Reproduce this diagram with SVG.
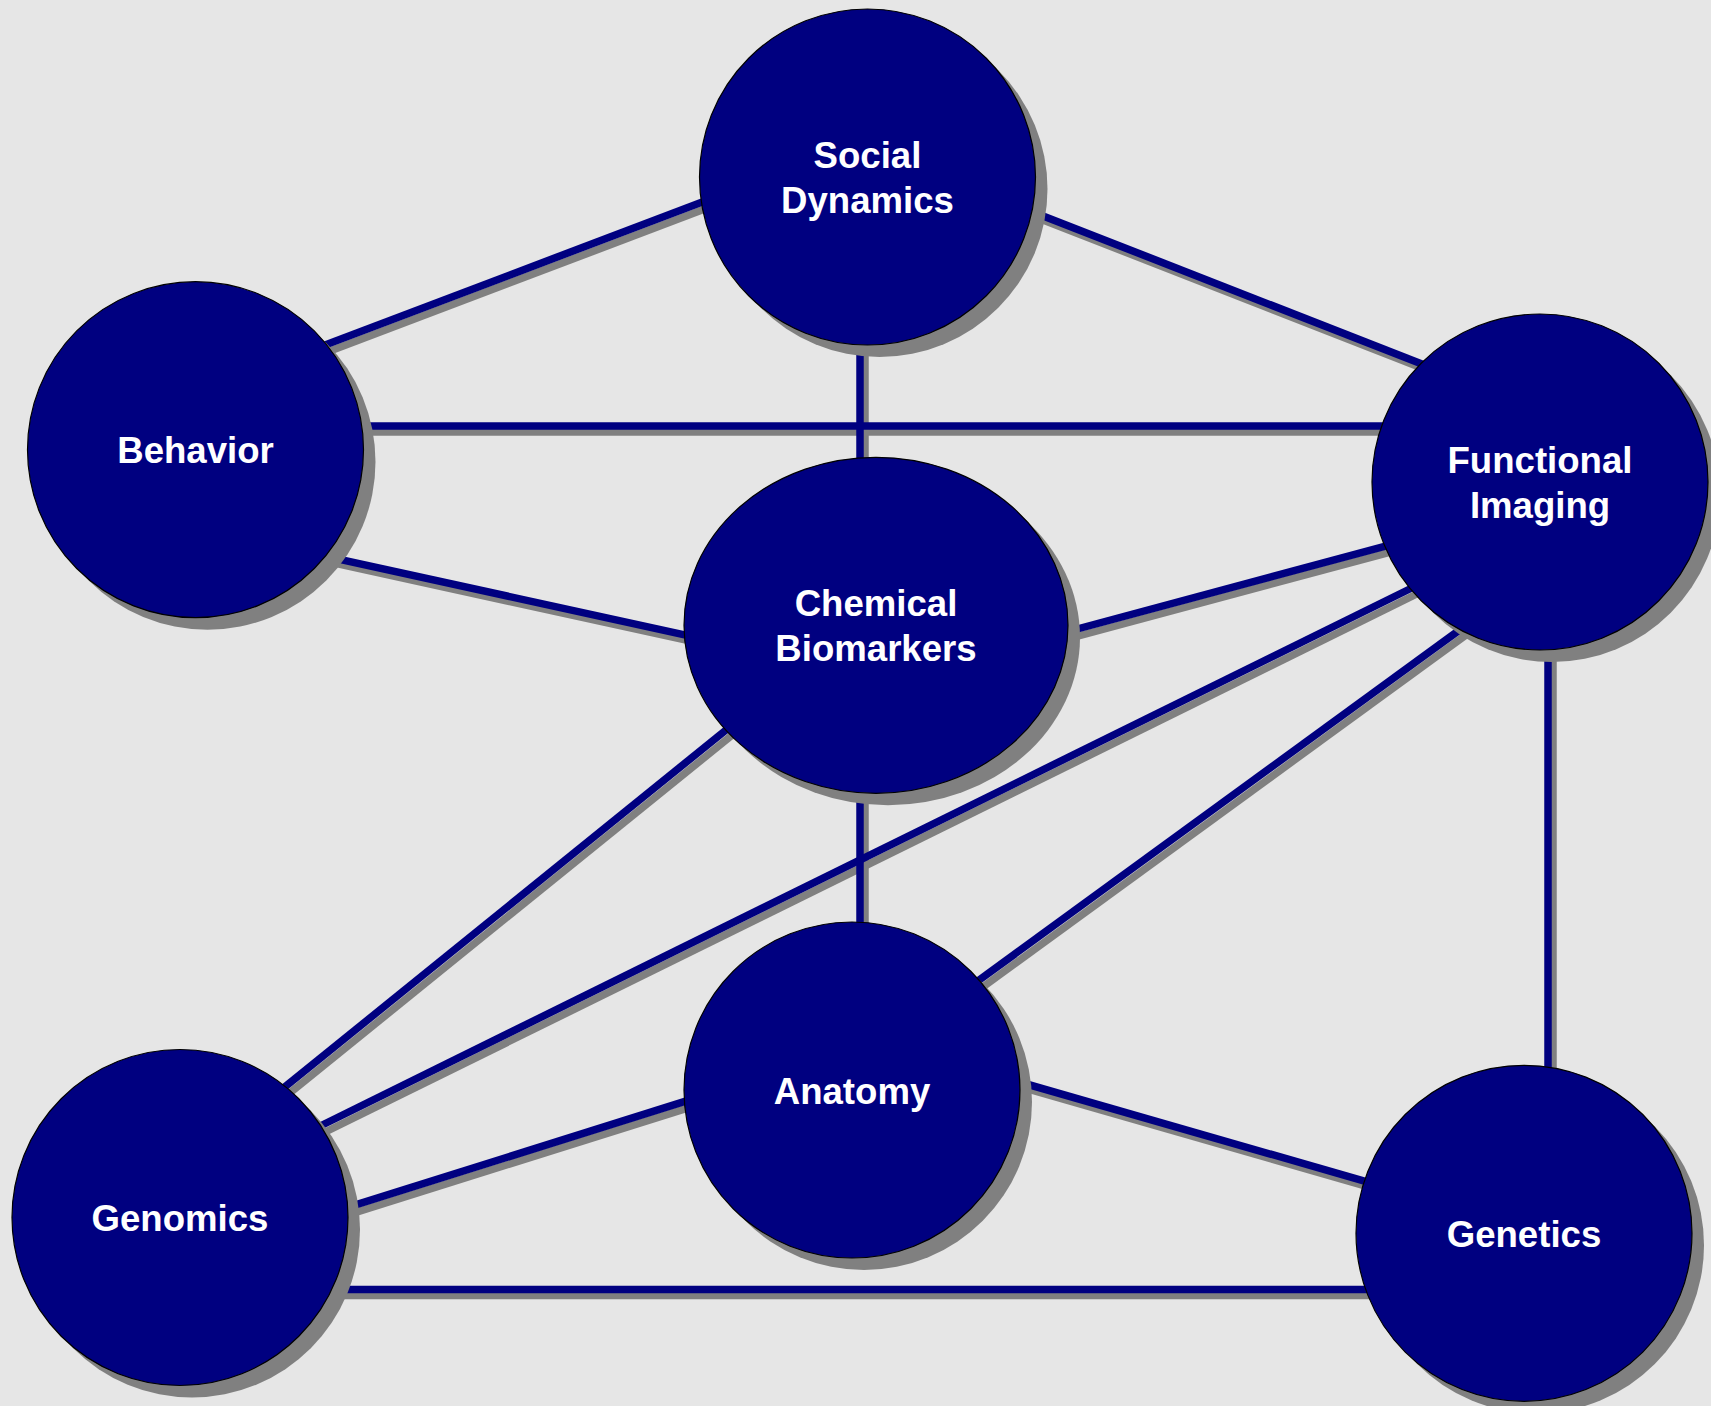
<svg xmlns="http://www.w3.org/2000/svg" width="1711" height="1406" viewBox="0 0 1711 1406">
  <style>
    .bg { fill: #e6e6e6; }
    .link { stroke: #000080; stroke-width: 7.5; fill: none; }
    .link-shadow { stroke: #808080; stroke-width: 7.5; fill: none; }
    .disc { fill: #000080; stroke: #000000; stroke-width: 1.2; }
    .disc-shadow { fill: #808080; }
    .label { fill: #ffffff; font-family: "Liberation Sans", Arial, Helvetica, sans-serif; font-weight: bold; font-size: 36.6px; text-anchor: middle; }
  </style>
  <defs>
    <g id="links">
      <line x1="300" y1="354.4" x2="730" y2="191.6"/>
      <line x1="1020" y1="206.9" x2="1450" y2="375"/>
      <line x1="860" y1="300" x2="860" y2="500"/>
      <line x1="300" y1="426" x2="1420" y2="426"/>
      <line x1="310" y1="552.8" x2="720" y2="642.7"/>
      <line x1="1040" y1="639" x2="1420" y2="536.8"/>
      <line x1="260" y1="1107" x2="750" y2="710.6"/>
      <line x1="1430" y1="579" x2="300" y2="1136"/>
      <line x1="960" y1="994" x2="1470" y2="622.4"/>
      <line x1="860" y1="750" x2="860" y2="960"/>
      <line x1="1548" y1="600" x2="1548" y2="1120"/>
      <line x1="700" y1="1096.7" x2="330" y2="1212.8"/>
      <line x1="1000" y1="1076.4" x2="1400" y2="1191.3"/>
      <line x1="300" y1="1289.5" x2="1420" y2="1289.5"/>
    </g>
  </defs>

  <rect class="bg" x="0" y="0" width="1711" height="1406"/>

  <!-- connectors: drop shadow first, then the navy strokes -->
  <g id="connectors">
    <use href="#links" class="link-shadow" transform="translate(5,6)"/>
    <use href="#links" class="link"/>
  </g>

  <g id="node-social-dynamics">
    <circle class="disc-shadow" cx="879.5" cy="189" r="168"/>
    <circle class="disc" cx="867.5" cy="177" r="168"/>
    <text class="label" x="867.5" y="168">Social</text>
    <text class="label" x="867.5" y="213">Dynamics</text>
  </g>

  <g id="node-behavior">
    <circle class="disc-shadow" cx="207.5" cy="461.7" r="168"/>
    <circle class="disc" cx="195.5" cy="449.7" r="168"/>
    <text class="label" x="195.5" y="463.3">Behavior</text>
  </g>

  <g id="node-functional-imaging">
    <circle class="disc-shadow" cx="1552" cy="494" r="168"/>
    <circle class="disc" cx="1540" cy="482" r="168"/>
    <text class="label" x="1540" y="473">Functional</text>
    <text class="label" x="1540" y="518">Imaging</text>
  </g>

  <g id="node-chemical-biomarkers">
    <ellipse class="disc-shadow" cx="888" cy="637.3" rx="192" ry="168"/>
    <ellipse class="disc" cx="876" cy="625.3" rx="192" ry="168"/>
    <text class="label" x="876" y="616.3">Chemical</text>
    <text class="label" x="876" y="661.3">Biomarkers</text>
  </g>

  <g id="node-anatomy">
    <circle class="disc-shadow" cx="864" cy="1102" r="168"/>
    <circle class="disc" cx="852" cy="1090" r="168"/>
    <text class="label" x="852" y="1103.5">Anatomy</text>
  </g>

  <g id="node-genomics">
    <circle class="disc-shadow" cx="192" cy="1229.5" r="168"/>
    <circle class="disc" cx="180" cy="1217.5" r="168"/>
    <text class="label" x="180" y="1231">Genomics</text>
  </g>

  <g id="node-genetics">
    <circle class="disc-shadow" cx="1536" cy="1245.3" r="168"/>
    <circle class="disc" cx="1524" cy="1233.3" r="168"/>
    <text class="label" x="1524" y="1247">Genetics</text>
  </g>
</svg>
